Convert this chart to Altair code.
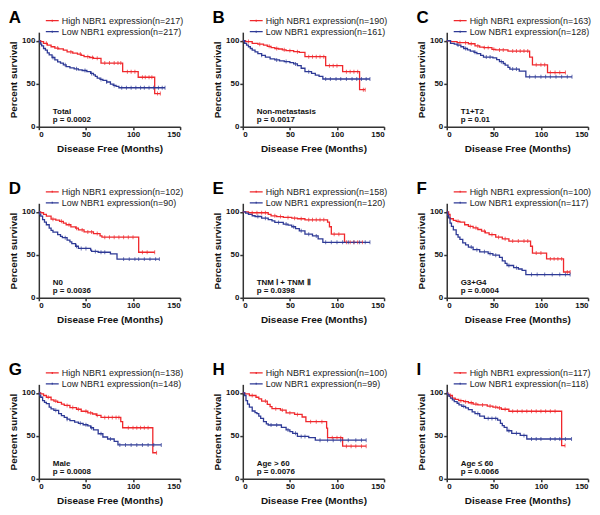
import altair as alt
import pandas as pd

FONT = "Liberation Sans"
RED = "#f0282c"
BLUE = "#2e3a96"

letters = ["A", "B", "C", "D", "E", "F", "G", "H", "I"]
n_high = [217, 190, 163, 102, 158, 100, 138, 100, 117]
n_low = [217, 161, 128, 90, 120, 117, 148, 99, 118]
subgroups = ["Total", "Non-metastasis", "T1+T2", "N0", "TNM Ⅰ + TNM Ⅱ",
             "G3+G4", "Male", "Age > 60", "Age ≤  60"]
pvals = ["0.0002", "0.0017", "0.01", "0.0036", "0.0398",
         "0.0004", "0.0008", "0.0076", "0.0066"]

# (months, percent survival) step points
A_high = [(0, 100), (2, 99), (5, 97), (9, 95), (13, 93), (17, 91.5), (21, 90.5), (26, 89), (30, 87),
          (36, 85.5), (41, 84.5), (45, 83), (48, 81.5), (54, 80.5), (58, 79.5), (66, 74), (89, 64),
          (105.5, 57.5), (123, 38.5), (129, 38.5)]
A_low = [(0, 100), (1, 98), (2, 96), (3, 94), (5, 91), (7, 89), (9, 86), (11, 83.5), (14, 80.5),
         (17, 77.7), (20, 75.5), (23, 74), (26, 72), (29, 70), (33, 68.5), (37.5, 67.3), (42, 66),
         (46, 65.4), (51, 64), (55, 62), (58, 60.4), (60, 58.5), (62, 56.5), (65, 55), (68, 53.8),
         (72, 52), (76, 49.6), (79, 48), (82, 47), (85, 45.3), (134, 45.3)]
B_high = [(0, 100), (3, 99), (10, 97), (16, 96), (22, 95), (26, 93.5), (30, 92), (34, 91), (38, 90.4),
          (42, 89.5), (46, 88.5), (54, 87.3), (60, 86.5), (66, 81.5), (88, 71), (106, 64), (124, 43),
          (130, 43)]
B_low = [(0, 100), (2, 97), (4, 95), (6, 93), (8, 91), (10, 89), (13, 87), (16, 85), (20, 83), (24, 81),
         (29, 79), (34, 77.7), (39, 76.5), (44, 75.8), (50, 74.5), (54, 73), (58, 71), (62, 68), (66, 64),
         (73, 62), (77, 60), (81, 58.5), (85, 55.5), (135, 55.5)]
C_high = [(0, 100), (4, 99), (11, 97.7), (23, 96.5), (30, 94), (35, 92.5), (39, 92), (48, 90),
          (52, 89.3), (65, 88), (88, 81), (91, 72), (107, 63), (126, 63)]
C_low = [(0, 100), (4, 97), (8, 96), (11, 95), (15, 93), (18, 91), (22, 89.5), (25, 88), (29, 86.5),
         (32, 85), (36, 83), (39, 81), (49, 80), (53, 78), (56, 75.6), (60, 73.5), (62, 71.7), (65, 69),
         (67, 67), (77, 64.7), (84, 58), (133, 58)]
D_high = [(0, 100), (2, 99), (5, 97), (8, 95), (13, 91.5), (18, 90.5), (22, 89), (26, 87), (29, 85),
          (34, 82.5), (39, 81), (42, 79), (48, 76.7), (58, 74.8), (65, 72), (67, 70.5), (106, 53),
          (123, 53)]
D_low = [(0, 100), (1, 97), (2, 95), (4, 91), (6, 88), (8, 85), (11, 81), (13, 78.5), (15, 76.4),
         (20, 73.6), (23, 71.5), (25, 70), (30, 67), (33, 65), (35, 63), (39, 60), (42, 57.4),
         (55, 55.4), (56, 54), (63, 53), (76, 51), (83, 45), (128, 45)]
E_high = [(0, 100), (6, 99), (27, 97), (30, 95.4), (36, 94.5), (43, 93.5), (52, 92.7), (58, 92),
          (66, 90.8), (90, 88), (92, 82.7), (94, 74), (108, 64.6), (127, 64.6)]
E_low = [(0, 100), (3, 98.5), (6, 97), (10, 95.5), (13, 94.6), (20, 92.7), (27, 91), (31, 89.5),
         (34, 87.7), (43, 85.8), (48, 84.5), (52, 82.7), (56, 80.5), (60, 78), (66, 74), (74, 72),
         (80, 68.5), (85, 64.6), (135, 64.6)]
F_high = [(0, 100), (2, 97), (3.5, 92), (7, 90), (10, 89), (14, 88), (19, 85), (23, 83), (28, 81.4),
          (33, 79.5), (37, 77.5), (41, 75.5), (45, 73.6), (52, 70.5), (59, 68.6), (66, 66), (89, 60),
          (91, 52), (106, 45.3), (124, 30), (131, 30)]
F_low = [(0, 100), (1, 96), (2, 93), (3.5, 87), (5, 83), (7, 79), (10, 73.6), (12, 70.5), (14, 68),
         (17, 64), (20, 61.5), (23, 59), (28, 56), (35, 53.5), (44, 51.5), (49, 49.6), (56, 47),
         (59, 43), (62, 40), (64, 37.6), (71, 35), (76, 33.5), (80, 32), (84, 27), (131, 27)]
G_high = [(0, 100), (2, 99), (5, 97), (8, 95), (13, 92), (16, 90.5), (20, 89), (24, 87), (27, 85.5),
          (33, 83), (40, 81), (45, 78.7), (52, 76.8), (57, 75.5), (61, 74), (66, 71.5), (87, 66.5),
          (89, 59.5), (121, 30.4), (125, 30.4)]
G_low = [(0, 100), (1, 97), (2, 95), (4, 91), (6, 89), (8, 87.5), (11, 83.6), (13, 81.5), (16, 79.8),
         (21, 76), (24, 73.5), (27, 71.5), (30, 69.5), (33, 67.7), (38, 66), (42, 64.6), (47, 63),
         (52, 61.6), (55, 59.5), (58, 57), (63, 52.5), (68, 48.7), (73, 46.4), (80, 43.7), (84, 39.5),
         (130, 39.5)]
H_high = [(0, 100), (2, 99), (7, 97), (14, 95), (17, 93), (20, 90.5), (26, 86.7), (29, 84), (31, 81.7),
          (40, 80), (46, 76.8), (55, 75), (63, 72), (67, 66.5), (89, 59), (90, 48), (106, 38), (131, 38)]
H_low = [(0, 100), (2, 97), (3.4, 91), (5, 87), (7, 83.6), (10, 79), (13, 77), (15, 76), (17, 73),
         (19, 70.3), (22, 66.5), (25, 64), (27, 62.7), (41, 60), (46, 57), (50, 55), (53, 53),
         (58, 49.4), (70, 48), (77, 45), (131, 45)]
I_high = [(0, 100), (1, 98.5), (2.4, 97), (6, 94), (9, 92.5), (12.7, 91), (18, 89.8), (23, 88.6),
          (28, 87), (33, 86), (43, 84.7), (49, 83.5), (54, 82.5), (58, 81), (66, 78.7), (122, 38.8),
          (125.6, 38.8)]
I_low = [(0, 100), (1, 98), (2.4, 96), (4, 94), (6, 92), (8, 90), (11, 88), (13, 86), (16, 84.4),
         (20, 82.5), (23, 80.6), (27, 78), (30, 76), (35, 73), (40, 70.3), (54, 68.4), (57, 64.6),
         (59, 62), (61, 60), (64, 56), (69, 53), (78, 50.5), (85, 46.4), (132.5, 46.4)]

# censored observation times (tick marks)
A_high_cens = [8, 20, 34, 44, 52, 57, 62, 70, 75, 80, 84, 87, 94, 98, 102, 110, 113, 117, 120, 126, 129]
A_low_cens = [15, 28, 40, 49, 56, 66, 72, 80, 88, 93, 98, 103, 108, 112, 117, 122, 127, 131, 134]
B_high_cens = [6, 18, 28, 36, 44, 50, 58, 70, 74, 78, 82, 86, 92, 96, 100, 110, 114, 118, 122, 128, 130]
B_low_cens = [20, 36, 46, 56, 70, 88, 93, 99, 104, 110, 116, 121, 126, 131, 135]
C_high_cens = [14, 20, 26, 33, 40, 44, 50, 56, 60, 70, 74, 78, 82, 86, 95, 100, 104, 110, 115, 120, 126]
C_low_cens = [12, 20, 30, 42, 46, 58, 70, 74, 88, 94, 100, 105, 110, 116, 122, 128, 133]
D_high_cens = [15, 24, 32, 40, 46, 52, 56, 62, 70, 75, 80, 85, 90, 95, 100, 110, 115, 123]
D_low_cens = [28, 40, 45, 50, 60, 66, 70, 90, 96, 102, 106, 112, 118, 124, 128]
E_high_cens = [10, 15, 20, 24, 34, 40, 48, 55, 62, 70, 74, 78, 82, 86, 97, 102, 110, 114, 118, 122, 127]
E_low_cens = [16, 24, 38, 46, 54, 62, 70, 78, 88, 94, 100, 106, 112, 118, 124, 130, 135]
F_high_cens = [12, 25, 31, 40, 48, 55, 62, 70, 76, 82, 86, 95, 100, 110, 114, 118, 122, 128, 131]
F_low_cens = [26, 32, 40, 46, 52, 66, 74, 90, 96, 104, 112, 120, 126, 131]
G_high_cens = [10, 18, 30, 36, 42, 50, 55, 62, 70, 74, 78, 82, 85, 95, 100, 104, 108, 112, 116, 125]
G_low_cens = [18, 30, 44, 50, 56, 66, 76, 86, 92, 98, 104, 110, 116, 122, 130]
H_high_cens = [10, 24, 35, 42, 50, 58, 72, 78, 84, 95, 100, 104, 110, 115, 120, 126, 131]
H_low_cens = [30, 36, 48, 56, 62, 66, 82, 90, 96, 104, 112, 120, 126, 131]
I_high_cens = [4, 15, 20, 26, 31, 38, 46, 52, 56, 62, 70, 75, 80, 85, 90, 95, 100, 105, 110, 115, 125.6]
I_low_cens = [18, 33, 44, 48, 52, 66, 74, 82, 90, 95, 100, 110, 115, 120, 126, 132.5]

curves = {
    "A": (A_high, A_low, A_high_cens, A_low_cens),
    "B": (B_high, B_low, B_high_cens, B_low_cens),
    "C": (C_high, C_low, C_high_cens, C_low_cens),
    "D": (D_high, D_low, D_high_cens, D_low_cens),
    "E": (E_high, E_low, E_high_cens, E_low_cens),
    "F": (F_high, F_low, F_high_cens, F_low_cens),
    "G": (G_high, G_low, G_high_cens, G_low_cens),
    "H": (H_high, H_low, H_high_cens, H_low_cens),
    "I": (I_high, I_low, I_high_cens, I_low_cens),
}

W, H = 142, 95


def step_value(curve, t):
    s = curve[0][1]
    for tt, ss in curve:
        if tt <= t:
            s = ss
        else:
            break
    return s


def panel(i):
    L = letters[i]
    hi, lo, hic, loc = curves[L]
    hl = f"High NBR1 expression(n={n_high[i]})"
    ll = f"Low NBR1 expression(n={n_low[i]})"
    line_df = pd.DataFrame(
        [{"t": t, "s": s, "g": hl} for t, s in hi] + [{"t": t, "s": s, "g": ll} for t, s in lo]
    )
    hc_df = pd.DataFrame({"t": hic, "s": [step_value(hi, t) for t in hic]})
    lc_df = pd.DataFrame({"t": loc, "s": [step_value(lo, t) for t in loc]})

    x = alt.X("t:Q", scale=alt.Scale(domain=[0, 150], nice=False, zero=True),
              axis=alt.Axis(values=[0, 50, 100, 150], title="Disease Free (Months)", titlePadding=5))
    y = alt.Y("s:Q", scale=alt.Scale(domain=[0, 110], nice=False),
              axis=alt.Axis(values=[0, 50, 100], title="Percent survival", titlePadding=3))
    color = alt.Color(
        "g:N",
        scale=alt.Scale(domain=[hl, ll], range=[RED, BLUE]),
        legend=alt.Legend(
            title=None, orient="none", legendX=8, legendY=-17,
            symbolType="M-1.45,0H1.45M0,-0.22V0.22", symbolSize=80, symbolStrokeWidth=1.2,
            labelFontSize=9, labelFont=FONT, labelColor="#222", labelLimit=0, rowPadding=0,
            labelOffset=4, padding=0, symbolFillColor="transparent",
        ),
    )
    lines = alt.Chart(line_df).mark_line(interpolate="step-after", strokeWidth=1.3).encode(
        x=x, y=y, color=color, detail="g:N"
    )
    tick_hi = alt.Chart(hc_df).mark_tick(orient="vertical", size=4, thickness=1, color=RED).encode(x="t:Q", y="s:Q")
    tick_lo = alt.Chart(lc_df).mark_tick(orient="vertical", size=4, thickness=1, color=BLUE).encode(x="t:Q", y="s:Q")
    ann = alt.Chart(pd.DataFrame({"txt": [f"{subgroups[i]}\np = {pvals[i]}"]})).mark_text(
        align="left", baseline="alphabetic", lineBreak="\n", lineHeight=8,
        fontSize=8, fontWeight="bold", font=FONT, color="#111",
    ).encode(text="txt:N", x=alt.value(14), y=alt.value(82))

    return alt.layer(lines, tick_hi, tick_lo, ann).properties(
        width=W, height=H,
        title=alt.TitleParams(L, anchor="start", frame="bounds", fontSize=17, fontWeight="bold",
                              font=FONT, color="#000", offset=-12),
    )


def row(r):
    return alt.hconcat(*[panel(r * 3 + c) for c in range(3)], spacing=28).resolve_scale(color="independent")


top_two = alt.vconcat(row(0), row(1), spacing=27).resolve_scale(color="independent")
chart = alt.vconcat(top_two, row(2), spacing=37).resolve_scale(color="independent").properties(padding=0)
chart = chart.configure_view(stroke=None).configure_axis(
    grid=False, domainColor="#333", domainWidth=1.5, tickColor="#333", tickWidth=1.5, tickSize=3,
    labelFont=FONT, labelFontSize=8, labelFontWeight="bold", labelColor="#111", labelPadding=1,
    titleFont=FONT, titleFontSize=10, titleFontWeight="bold", titleColor="#111",
)

chart.save("out.html", embed_options={"renderer": "svg", "actions": False})
